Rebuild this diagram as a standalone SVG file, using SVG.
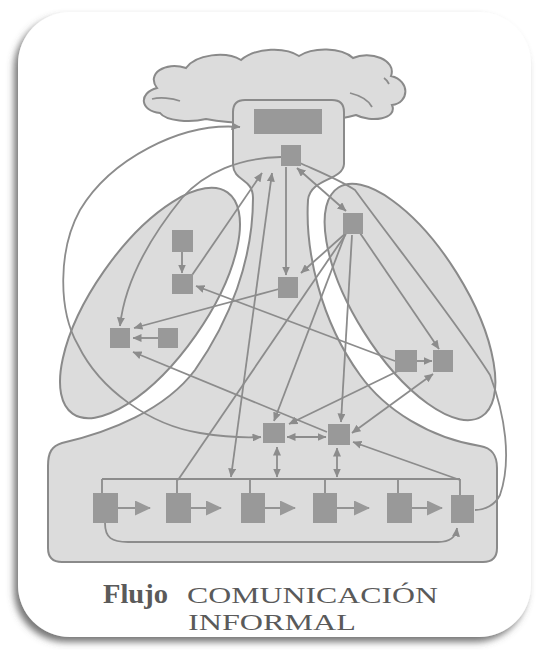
<svg xmlns="http://www.w3.org/2000/svg" width="539" height="650" viewBox="0 0 539 650">
<defs>
<filter id="sh" x="-10%" y="-10%" width="120%" height="120%">
<feDropShadow dx="-4" dy="5" stdDeviation="3.5" flood-color="#555" flood-opacity="0.8"/>
</filter>
<marker id="a" markerUnits="userSpaceOnUse" markerWidth="9" markerHeight="8" refX="8.5" refY="4" orient="auto-start-reverse">
<path d="M0,0 L9,4 L0,8 z" fill="#8c8c8c"/>
</marker>
<marker id="b" markerUnits="userSpaceOnUse" markerWidth="16" markerHeight="15" refX="15" refY="7.5" orient="auto">
<path d="M0,0 L16,7.5 L0,15 z" fill="#999"/>
</marker>
</defs>
<style>
.reg{fill:#dcdcdc;stroke:#8a8a8a;stroke-width:2}
.nd{fill:#999;stroke:none}
.c{fill:none;stroke:#8c8c8c;stroke-width:1.8}
.t{font-family:"Liberation Serif","Times New Roman",serif;fill:#5a5a5a}
</style>
<rect width="539" height="650" fill="#fff"/>
<rect id="card" x="18" y="12" width="513" height="625" rx="52" fill="#fff" filter="url(#sh)"/>

<g id="cloud">
<path class="reg" d="M160,113 C140,111 138,93 157,88 C146,74 165,61 186,68 C196,54 226,51 241,60 C256,47 286,47 299,56 C313,47 341,47 353,58 C370,50 397,60 391,76 C411,81 409,103 392,105 C398,119 371,123 356,115 C320,125 240,126 206,119 C190,123 166,121 160,113 Z"/>
<path class="c" d="M152,99 C160,97 172,98 180,101"/>
<path class="c" d="M350,93 C362,96 369,101 372,107"/>
<path class="c" d="M384,78 C387,80 388,82 389,84"/>
</g>

<g id="bell">
<path class="reg" d="M245,100 L332,100 Q344,100 344,112 L344,164 C343,181 310,178 308,200 C305,250 320,320 360,375 C385,410 430,438 480,446 C492,448 497,455 497,468 L497,548 Q497,562 483,562 L62,562 Q48,562 48,548 L48,466 C48,452 52,446 62,443 C110,432 165,410 195,370 C230,320 253,260 253,198 C253,178 234,182 233,165 L233,112 Q233,100 245,100 Z"/>
</g>

<g id="leftGroup">
<ellipse class="reg" cx="150" cy="303" rx="135" ry="56" transform="rotate(-55 150 303)"/>
</g>
<g id="rightGroup">
<ellipse class="reg" cx="410" cy="302" rx="135" ry="55" transform="rotate(58 410 302)"/>
</g>

<g id="connectors">
<path class="c" d="M261,437 C245,438 225,437 200,433 C150,425 100,390 78,345 C58,310 58,250 80,210 C110,160 180,122 240,127" marker-start="url(#a)" marker-end="url(#a)"/>
<path class="c" d="M281,157 C240,158 205,172 182,198 C152,235 125,280 120,326" marker-end="url(#a)"/>
<path class="c" d="M300,163 C320,172 340,180 355,190 C395,245 455,320 490,375 C505,415 512,460 500,495 C495,505 485,510 475,510"/>
<path class="c" d="M286,167 L286,275" marker-end="url(#a)"/>
<path class="c" d="M297,168 L346,211" marker-start="url(#a)" marker-end="url(#a)"/>
<path class="c" d="M188,281 L262,173" marker-end="url(#a)"/>
<path class="c" d="M272,173 L231,477" marker-start="url(#a)" marker-end="url(#a)"/>
<path class="c" d="M279,289 L134,328" marker-end="url(#a)"/>
<path class="c" d="M158,338 L133,338" marker-end="url(#a)"/>
<path class="c" d="M182,252 L182,273" marker-end="url(#a)"/>
<path class="c" d="M327,432 L133,352" marker-end="url(#a)"/>
<path class="c" d="M395,361 L196,286" marker-end="url(#a)"/>
<path class="c" d="M346,233 L301,273" marker-end="url(#a)"/>
<path class="c" d="M345,235 L274,421" marker-end="url(#a)"/>
<path class="c" d="M352,235 L341,422" marker-end="url(#a)"/>
<path class="c" d="M360,233 L439,349" marker-end="url(#a)"/>
<path class="c" d="M398,371 L289,424" marker-end="url(#a)"/>
<path class="c" d="M352,433 L433,374" marker-start="url(#a)" marker-end="url(#a)"/>
<path class="c" d="M460,480 L353,442" marker-end="url(#a)"/>
<path class="c" d="M178,480 L346,234"/>
<path class="c" d="M287,437 L326,437" marker-start="url(#a)" marker-end="url(#a)"/>
<path class="c" d="M277,447 L277,477" marker-start="url(#a)" marker-end="url(#a)"/>
<path class="c" d="M337,448 L337,477" marker-start="url(#a)" marker-end="url(#a)"/>
<path class="c" d="M417,361 L432,361" marker-end="url(#a)"/>
<path class="c" d="M102,479 L460,479 M102,479 V493 M177,479 V493 M250,479 V493 M325,479 V493 M398,479 V493 M460,479 V495"/>
<path class="c" d="M105,523 C105,538 112,542 128,542 L438,542 C450,542 456,537 457,528" marker-end="url(#a)"/>
<path class="c" d="M118,508 L150,508" marker-end="url(#b)"/>
<path class="c" d="M191,508 L221,508" marker-end="url(#b)"/>
<path class="c" d="M265,508 L295,508" marker-end="url(#b)"/>
<path class="c" d="M337,508 L369,508" marker-end="url(#b)"/>
<path class="c" d="M412,508 L442,508" marker-end="url(#b)"/>
</g>

<g id="topBox">
<rect class="nd" x="254" y="109" width="68" height="25"/>
<rect class="nd" x="281" y="145" width="20" height="21"/>
</g>
<g id="n1"><rect class="nd" x="172" y="230" width="21" height="22"/></g>
<g id="n2"><rect class="nd" x="172" y="274" width="21" height="20"/></g>
<g id="n3"><rect class="nd" x="110" y="328" width="20" height="20"/></g>
<g id="n4"><rect class="nd" x="158" y="328" width="20" height="20"/></g>
<g id="n5"><rect class="nd" x="278" y="277" width="20" height="21"/></g>
<g id="n6"><rect class="nd" x="343" y="213" width="20" height="21"/></g>
<g id="n7"><rect class="nd" x="263" y="423" width="22" height="20"/></g>
<g id="n8"><rect class="nd" x="328" y="424" width="22" height="21"/></g>
<g id="n9"><rect class="nd" x="395" y="350" width="22" height="22"/></g>
<g id="n10"><rect class="nd" x="433" y="350" width="20" height="22"/></g>
<g id="b1"><rect class="nd" x="93" y="493" width="25" height="30"/></g>
<g id="b2"><rect class="nd" x="166" y="493" width="25" height="30"/></g>
<g id="b3"><rect class="nd" x="241" y="493" width="24" height="30"/></g>
<g id="b4"><rect class="nd" x="313" y="493" width="24" height="30"/></g>
<g id="b5"><rect class="nd" x="387" y="493" width="25" height="30"/></g>
<g id="b6"><rect class="nd" x="451" y="495" width="23" height="28"/></g>

<g id="caption">
<text class="t" x="103" y="603" font-size="28" font-weight="bold" textLength="65" lengthAdjust="spacingAndGlyphs">Flujo</text>
<text class="t" x="187" y="603" font-size="24" textLength="251" lengthAdjust="spacingAndGlyphs">COMUNICACIÓN</text>
<text class="t" x="188" y="630" font-size="24" textLength="168" lengthAdjust="spacingAndGlyphs">INFORMAL</text>
</g>
</svg>
